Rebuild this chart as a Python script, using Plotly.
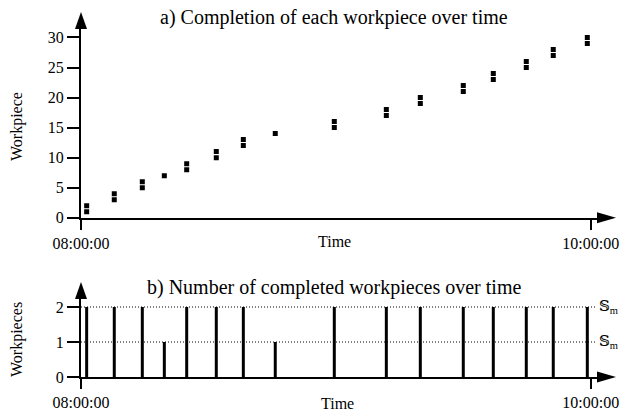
import plotly.graph_objects as go
from datetime import datetime, timedelta

# ---------------- data ----------------
workpieces = [1, 2, 3, 4, 5, 6, 7, 8, 9, 10, 11, 12, 13, 14, 15,
              16, 17, 18, 19, 20, 21, 22, 23, 24, 25, 26, 27, 28, 29, 30]
completion_times = [
    "08:01:20", "08:01:20", "08:07:50", "08:07:50", "08:14:26", "08:14:26",
    "08:19:37", "08:24:53", "08:24:53", "08:31:51", "08:31:51", "08:38:13",
    "08:38:13", "08:45:44", "08:59:38", "08:59:38", "09:11:53", "09:11:53",
    "09:19:53", "09:19:53", "09:30:00", "09:30:00", "09:37:04", "09:37:04",
    "09:44:50", "09:44:50", "09:51:11", "09:51:11", "09:59:12", "09:59:12",
]
batch_times = ["08:01:20", "08:07:50", "08:14:26", "08:19:37", "08:24:53",
               "08:31:51", "08:38:13", "08:45:44", "08:59:38", "09:11:53",
               "09:19:53", "09:30:00", "09:37:04", "09:44:50", "09:51:11",
               "09:59:12"]
batch_counts = [2, 2, 2, 1, 2, 2, 2, 1, 2, 2, 2, 2, 2, 2, 2, 2]
x_tick_labels = ["08:00:00", "10:00:00"]
y_ticks_a = [0, 5, 10, 15, 20, 25, 30]
y_ticks_b = [0, 1, 2]
ref_levels = [2, 1]
ref_labels = ["𝕊<sub>m</sub>", "𝕊<sub>m</sub>"]

DAY = "2024-01-01 "
def ts(s):
    return DAY + s

# ---------------- layout geometry (pixels) ----------------
W, H = 621, 412
X0, XE = 81.0, 598.0          # x axis start / arrow base
PX_PER_MIN = 4.2475
YA0, YAT = 217.7, 29.0        # top chart: y of value 0, y of arrow base
PXA = 6.007                   # px per workpiece (top)
YB0, YBT = 377.0, 299.0       # bottom chart
PXB = 35.0

start = datetime(2024, 1, 1, 8, 0, 0)
x_end = start + timedelta(minutes=(XE - X0) / PX_PER_MIN)
x_range = [start.strftime("%Y-%m-%d %H:%M:%S"), x_end.strftime("%Y-%m-%d %H:%M:%S")]

def px(x):
    return x / W
def py(y):
    return (H - y) / H

FONT = "Liberation Serif, Times New Roman, DejaVu Serif, serif"

fig = go.Figure()

fig.add_trace(go.Scatter(
    x=[ts(t) for t in completion_times], y=workpieces,
    mode="markers", marker=dict(symbol="square", size=5, color="black"),
    xaxis="x", yaxis="y", showlegend=False, hoverinfo="x+y"))

bx, by = [], []
for t, c in zip(batch_times, batch_counts):
    bx += [ts(t), ts(t), None]
    by += [0, c, None]
fig.add_trace(go.Scatter(
    x=bx, y=by, mode="lines", line=dict(color="black", width=3),
    xaxis="x2", yaxis="y2", showlegend=False))

axis_common = dict(showline=True, linecolor="black", linewidth=2,
                   ticks="outside", tickcolor="black", tickwidth=2,
                   showgrid=False, zeroline=False, automargin=False,
                   tickfont=dict(family=FONT, size=16, color="black"))

xdom = [px(X0), px(XE)]
fig.update_layout(
    width=W, height=H, margin=dict(l=0, r=0, t=0, b=0, autoexpand=False),
    paper_bgcolor="white", plot_bgcolor="white",
    font=dict(family=FONT, color="black"),
    xaxis=dict(domain=xdom, anchor="y", type="date", range=x_range,
               tickvals=[ts(s) for s in x_tick_labels], ticktext=x_tick_labels,
               ticklen=10, **axis_common),
    yaxis=dict(domain=[py(YA0), py(YAT)], anchor="x",
               range=[0, (YA0 - YAT) / PXA], tickvals=y_ticks_a,
               ticklen=12, **axis_common),
    xaxis2=dict(domain=xdom, anchor="y2", type="date", range=x_range,
                tickvals=[ts(s) for s in x_tick_labels], ticktext=x_tick_labels,
                ticklen=10, **axis_common),
    yaxis2=dict(domain=[py(YB0), py(YBT)], anchor="x2",
                range=[0, (YB0 - YBT) / PXB], tickvals=y_ticks_b,
                ticklen=12, **axis_common),
)

shapes = []
# arrowheads
for ybase in (YAT, YBT):
    shapes.append(dict(type="path", xref="paper", yref="paper",
                       xsizemode="pixel", ysizemode="pixel",
                       xanchor=px(X0), yanchor=py(ybase),
                       path="M-6,0 L6,0 L0,17 Z",
                       fillcolor="black", line=dict(width=0)))
for ybase in (YA0, YB0):
    shapes.append(dict(type="path", xref="paper", yref="paper",
                       xsizemode="pixel", ysizemode="pixel",
                       xanchor=px(XE), yanchor=py(ybase),
                       path="M-1,-5.5 L-1,5.5 L18,0 Z",
                       fillcolor="black", line=dict(width=0)))
# dotted reference lines
for lv in ref_levels:
    shapes.append(dict(type="line", xref="x2 domain", yref="y2",
                       x0=0, x1=(597 - X0) / (XE - X0), y0=lv, y1=lv,
                       line=dict(color="black", width=1, dash="1px,2px"),
                       layer="below"))
fig.update_layout(shapes=shapes)

ann = []
ann.append(dict(text="a) Completion of each workpiece over time", x=px(334), y=py(18),
                xref="paper", yref="paper", showarrow=False,
                font=dict(size=20, family=FONT, color="black"),
                xanchor="center", yanchor="middle"))
ann.append(dict(text="b) Number of completed workpieces over time", x=px(334), y=py(287),
                xref="paper", yref="paper", showarrow=False,
                font=dict(size=20, family=FONT, color="black"),
                xanchor="center", yanchor="middle"))
ann.append(dict(text="Time", x=px(335), y=py(242), xref="paper", yref="paper",
                showarrow=False, font=dict(size=16, family=FONT, color="black"),
                xanchor="center", yanchor="middle"))
ann.append(dict(text="Time", x=px(337), y=py(403), xref="paper", yref="paper",
                showarrow=False, font=dict(size=16, family=FONT, color="black"),
                xanchor="center", yanchor="middle"))
ann.append(dict(text="Workpiece", x=px(17), y=py(127), xref="paper", yref="paper",
                showarrow=False, textangle=-90,
                font=dict(size=16, family=FONT, color="black"),
                xanchor="center", yanchor="middle"))
ann.append(dict(text="Workpieces", x=px(17), y=py(340), xref="paper", yref="paper",
                showarrow=False, textangle=-90,
                font=dict(size=16, family=FONT, color="black"),
                xanchor="center", yanchor="middle"))
for lv, lab in zip(ref_levels, ref_labels):
    ann.append(dict(text=lab, x=px(620), y=lv, xref="paper", yref="y2",
                    showarrow=False, xanchor="right", yanchor="middle",
                    font=dict(size=15, family=FONT, color="black")))
fig.update_layout(annotations=ann)

fig.write_html("out.html", config={"displayModeBar": False},
               post_script="document.body.style.margin='0px';document.body.style.overflow='hidden';")
